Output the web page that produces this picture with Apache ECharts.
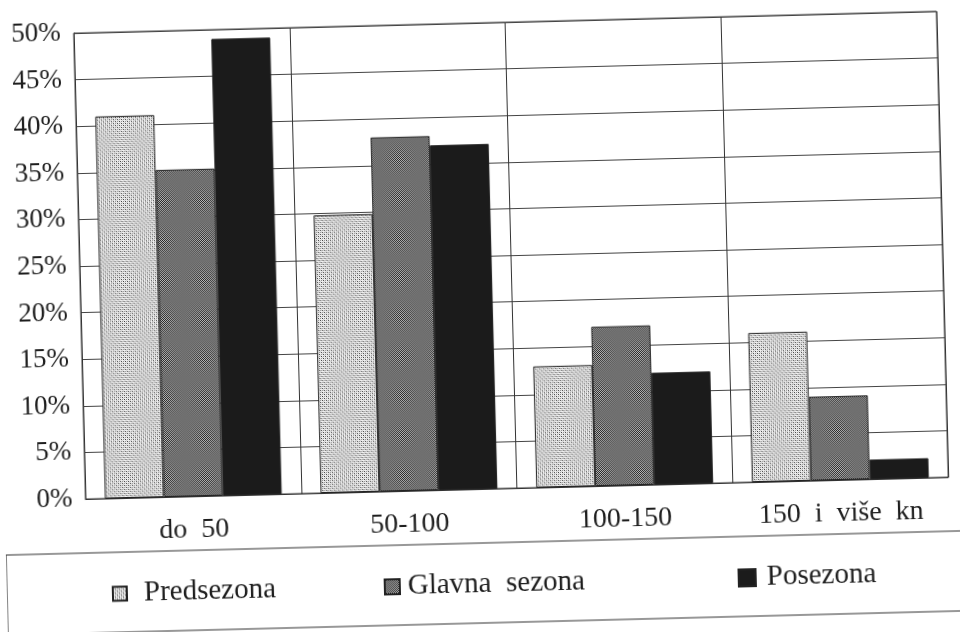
<!DOCTYPE html>
<html>
<head>
<meta charset="utf-8">
<script src="https://cdn.jsdelivr.net/npm/echarts@6/dist/echarts.min.js"></script>
<style>
  html, body { margin: 0; padding: 0; background: #ffffff; overflow: hidden; }
  #chart { width: 960px; height: 632px; transform: rotate(-1.45deg); transform-origin: 480px 316px; }
</style>
</head>
<body>
<div id="chart"></div>
<script>
// ---- data ----
const categories = ['do  50', '50-100', '100-150', '150  i  više  kn'];
const seriesNames = ['Predsezona', 'Glavna  sezona', 'Posezona'];
const predsezona = [41.0, 29.8, 13.0, 16.0];
const glavnaSezona = [35.1, 38.0, 17.1, 9.0];
const posezona = [49.0, 37.0, 12.0, 2.1];
const yMin = 0, yMax = 50, yStep = 5;

// ---- fill patterns (scanned halftone look) ----
function makePattern(size, bg, dots) {
  const c = document.createElement('canvas');
  c.width = size; c.height = size;
  const g = c.getContext('2d');
  g.fillStyle = bg; g.fillRect(0, 0, size, size);
  dots.forEach(d => { g.fillStyle = d[2]; g.fillRect(d[0], d[1], 1, 1); });
  return { image: c, repeat: 'repeat' };
}
const patPred = makePattern(4, '#f0f0f0', [[0,0,'#3a3a3a'],[2,0,'#8a8a8a'],[0,2,'#8a8a8a'],[2,2,'#3a3a3a'],[1,1,'#d0d0d0'],[3,3,'#d0d0d0']]);
const patGlav = makePattern(2, '#bdbdbd', [[0,0,'#222222'],[1,1,'#222222']]);
const colPos = '#1b1b1b';

const FONT = '"Liberation Serif", "Times New Roman", serif';
const TXT = '#1e1e1e';

const chart = echarts.init(document.getElementById('chart'), null, { renderer: 'canvas' });

function legendFor(name, left, gap, size) {
  return {
    data: [{ name: name, icon: 'rect' }], left: left, top: 565, orient: 'horizontal',
    itemWidth: size, itemHeight: size, selectedMode: false,
    textStyle: { fontFamily: FONT, fontSize: 29, color: TXT, padding: [0, 0, 0, gap] }
  };
}

const barStyle = (fill) => ({ color: fill, borderColor: '#222', borderWidth: 1 });

chart.setOption({
  backgroundColor: '#ffffff',
  animation: false,
  grid: { left: 81, top: 23, right: 16, bottom: 143, show: true, borderColor: '#333', borderWidth: 1, containLabel: false },
  xAxis: {
    type: 'category',
    data: categories,
    boundaryGap: true,
    axisLine: { show: true, lineStyle: { color: '#333', width: 1 } },
    axisTick: { show: false },
    splitLine: { show: true, interval: 0, lineStyle: { color: '#333', width: 1 } },
    axisLabel: { fontFamily: FONT, fontSize: 28, color: TXT, margin: 20, interval: 0 }
  },
  yAxis: {
    type: 'value',
    min: yMin, max: yMax, interval: yStep,
    axisLine: { show: true, lineStyle: { color: '#333', width: 1 } },
    axisTick: { show: false },
    splitLine: { show: true, lineStyle: { color: '#444', width: 1 } },
    axisLabel: { fontFamily: FONT, fontSize: 27, color: TXT, margin: 13, formatter: '{value}%' }
  },
  legend: [
    legendFor(seriesNames[0], 100, 12, 14),
    legendFor(seriesNames[1], 372, 3, 15),
    legendFor(seriesNames[2], 726, 6, 17)
  ],
  graphic: [{
    type: 'rect', silent: true, z: -1,
    shape: { x: 0, y: 543, width: 1000, height: 80 },
    style: { fill: 'none', stroke: '#333', lineWidth: 1.2 }
  }],
  series: [
    { name: seriesNames[0], type: 'bar', data: predsezona, barGap: '0%', barCategoryGap: '18%', itemStyle: barStyle(patPred) },
    { name: seriesNames[1], type: 'bar', data: glavnaSezona, barGap: '0%', barCategoryGap: '18%', itemStyle: barStyle(patGlav) },
    { name: seriesNames[2], type: 'bar', data: posezona, barGap: '0%', barCategoryGap: '18%', itemStyle: barStyle(colPos) }
  ]
});
</script>
</body>
</html>
